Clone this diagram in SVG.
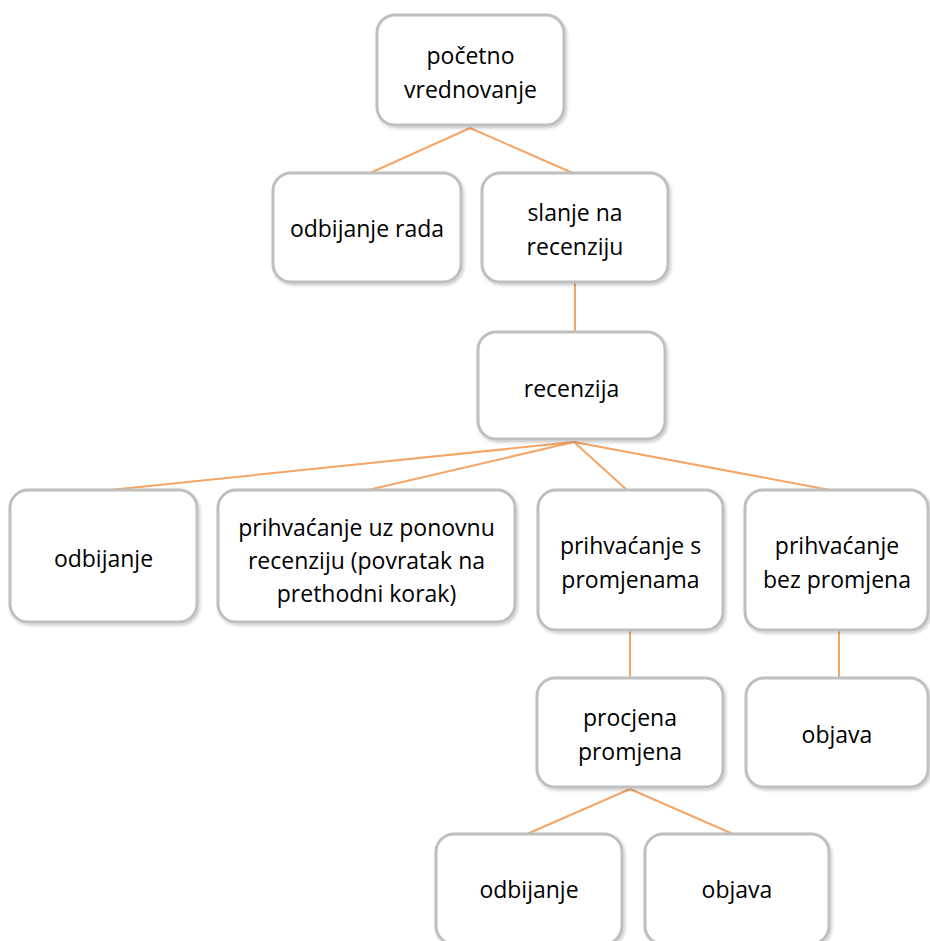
<svg xmlns="http://www.w3.org/2000/svg" width="930" height="941" viewBox="0 0 930 941">
<style>
.box{fill:#fff;stroke:#bfbfbf;stroke-width:3;filter:url(#sh)}
.t{font-family:"Open Sans","Noto Sans",sans-serif;font-size:23px;fill:#000;text-anchor:middle}
.c{stroke:#f5a565;stroke-width:2;fill:none}
</style>
<defs>
<filter id="sh" x="-10%" y="-10%" width="130%" height="130%">
<feDropShadow dx="1.5" dy="2" stdDeviation="1.5" flood-color="#000" flood-opacity="0.2"/>
</filter>
</defs>
<g id="connectors">
<path class="c" d="M470,128 L368,174 M470,128 L575,174"/>
<path class="c" d="M575,283 L575,332"/>
<path class="c" d="M574,442 L110,490 M574,442 L368,490 M574,442 L627,490 M574,442 L830,490"/>
<path class="c" d="M630,631 L630,678"/>
<path class="c" d="M839,631 L839,678"/>
<path class="c" d="M630,789 L527,834 M630,789 L733,834"/>
</g>
<g id="n1"><rect class="box" x="377" y="15" width="187" height="110" rx="18"/><text class="t" x="470.5" y="64">početno</text><text class="t" x="470.5" y="98">vrednovanje</text></g>
<g id="n2"><rect class="box" x="273" y="173" width="188" height="109" rx="18"/><text class="t" x="367" y="237">odbijanje rada</text></g>
<g id="n3"><rect class="box" x="482" y="173" width="186" height="109" rx="18"/><text class="t" x="575" y="221">slanje na</text><text class="t" x="575" y="255">recenziju</text></g>
<g id="n4"><rect class="box" x="478" y="332" width="187" height="107" rx="18"/><text class="t" x="571.5" y="397">recenzija</text></g>
<g id="n5"><rect class="box" x="10" y="490" width="187" height="132" rx="18"/><text class="t" x="103.5" y="567">odbijanje</text></g>
<g id="n6"><rect class="box" x="218" y="490" width="297" height="132" rx="18"/><text class="t" x="366.5" y="536">prihvaćanje uz ponovnu</text><text class="t" x="366.5" y="569">recenziju (povratak na</text><text class="t" x="366.5" y="602">prethodni korak)</text></g>
<g id="n7"><rect class="box" x="538" y="490" width="185" height="140" rx="18"/><text class="t" x="630.5" y="554">prihvaćanje s</text><text class="t" x="630.5" y="588">promjenama</text></g>
<g id="n8"><rect class="box" x="745" y="490" width="183" height="140" rx="18"/><text class="t" x="837" y="554">prihvaćanje</text><text class="t" x="837" y="588">bez promjena</text></g>
<g id="n9"><rect class="box" x="537" y="678" width="186" height="109" rx="18"/><text class="t" x="630" y="726">procjena</text><text class="t" x="630" y="760">promjena</text></g>
<g id="n10"><rect class="box" x="746" y="678" width="182" height="109" rx="18"/><text class="t" x="837" y="743">objava</text></g>
<g id="n11"><rect class="box" x="436" y="834" width="186" height="110" rx="18"/><text class="t" x="529" y="898">odbijanje</text></g>
<g id="n12"><rect class="box" x="645" y="834" width="184" height="110" rx="18"/><text class="t" x="737" y="898">objava</text></g>
</svg>
